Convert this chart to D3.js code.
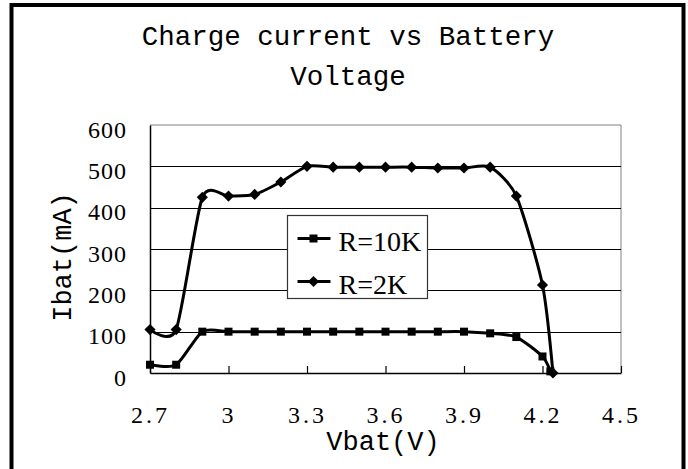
<!DOCTYPE html>
<html>
<head>
<meta charset="utf-8">
<script src="https://cdn.jsdelivr.net/npm/d3@7"></script>
<style>
  body { margin: 0; background: #fff; }
  text { fill: #000; }
</style>
</head>
<body>
<svg id="chart"></svg>
<script>
const W = 688, H = 469;
const plot = { left: 150, right: 621, top: 125, bottom: 373 };

// data
const voltage10k = [2.7, 2.8, 2.9, 3.0, 3.1, 3.2, 3.3, 3.4, 3.5, 3.6, 3.7, 3.8, 3.9, 4.0, 4.1, 4.2, 4.23];
const current10k = [20, 20, 100, 100, 100, 100, 100, 100, 100, 100, 100, 100, 100, 96, 87, 40, 4];
const voltage2k = [2.7, 2.8, 2.9, 3.0, 3.1, 3.2, 3.3, 3.4, 3.5, 3.6, 3.7, 3.8, 3.9, 4.0, 4.1, 4.2, 4.24];
const current2k = [105, 105, 425, 428, 432, 462, 500, 498, 498, 498, 498, 496, 496, 498, 428, 213, 0];
const seriesNames = ["R=10K", "R=2K"];
const xTicks = [2.7, 3.0, 3.3, 3.6, 3.9, 4.2, 4.5];
const yTicks = [0, 100, 200, 300, 400, 500, 600];

const svg = d3.select("#chart")
  .attr("width", W)
  .attr("height", H);

svg.append("rect")
  .attr("width", W)
  .attr("height", H)
  .attr("fill", "#fff");

// thick outer frame
svg.append("rect")
  .attr("x", 11.5)
  .attr("y", 5)
  .attr("width", 672)
  .attr("height", 480)
  .attr("fill", "none")
  .attr("stroke", "#000")
  .attr("stroke-width", 4);

const x = d3.scaleLinear().domain([2.7, 4.5]).range([plot.left, plot.right]);
const y = d3.scaleLinear().domain([0, 600]).range([plot.bottom, plot.top]);

// plot frame (top and right in grey)
svg.append("path")
  .attr("d", `M${plot.left},${plot.top}H${plot.right}V${plot.bottom}`)
  .attr("fill", "none")
  .attr("stroke", "#808080")
  .attr("stroke-width", 1);

// gridlines
svg.append("g")
  .selectAll("line")
  .data(yTicks.filter(d => d > 0 && d < 600))
  .enter()
  .append("line")
  .attr("x1", plot.left)
  .attr("x2", plot.right)
  .attr("y1", d => Math.round(y(d)) + 0.5)
  .attr("y2", d => Math.round(y(d)) + 0.5)
  .attr("stroke", "#000")
  .attr("stroke-width", 1);

// axes
const xAxis = svg.append("g")
  .attr("transform", `translate(0,${plot.bottom})`)
  .call(d3.axisBottom(x).tickValues(xTicks).tickSizeInner(-7).tickSizeOuter(0)
    .tickFormat(d => d === 3 ? "3" : d3.format(".1f")(d)));
xAxis.select(".domain").attr("stroke", "#000").attr("stroke-width", 1.5);
xAxis.selectAll(".tick line").attr("stroke", "#000").attr("stroke-width", 1.2);
xAxis.selectAll("text")
  .attr("y", 50)
  .attr("dy", null)
  .style("font-family", "'Liberation Serif', serif")
  .style("font-size", "24px")
  .style("letter-spacing", "3px")
  .attr("fill", "#000");

const yAxis = svg.append("g")
  .attr("transform", `translate(${plot.left},0)`)
  .call(d3.axisLeft(y).tickValues(yTicks).tickSize(0).tickPadding(23));
yAxis.select(".domain").attr("stroke", "#000").attr("stroke-width", 1.5);
yAxis.selectAll("text")
  .attr("dy", null)
  .attr("y", 12)
  .style("font-family", "'Liberation Serif', serif")
  .style("font-size", "24px")
  .style("letter-spacing", "1px")
  .attr("fill", "#000");

// series
const series = [
  { name: seriesNames[0], values: voltage10k.map((v, i) => ({ v, c: current10k[i] })), shape: "square" },
  { name: seriesNames[1], values: voltage2k.map((v, i) => ({ v, c: current2k[i] })), shape: "diamond" }
];

const line = d3.line()
  .x(d => x(d.v))
  .y(d => y(d.c))
  .curve(d3.curveCardinal.tension(0.3));

const squareSym = d3.symbol(d3.symbolSquare, 64);
const diamondSym = d3.symbol(d3.symbolSquare, 62);

function marker(sel, shape) {
  sel.append("path")
    .attr("d", shape === "square" ? squareSym() : diamondSym())
    .attr("transform", shape === "square" ? null : "rotate(45)")
    .attr("fill", "#000");
}

series.forEach(s => {
  svg.append("path")
    .datum(s.values)
    .attr("d", line)
    .attr("fill", "none")
    .attr("stroke", "#000")
    .attr("stroke-width", 3);

  svg.append("g")
    .selectAll("g")
    .data(s.values)
    .enter()
    .append("g")
    .attr("transform", d => `translate(${x(d.v)},${y(d.c)})`)
    .each(function() { marker(d3.select(this), s.shape); });
});

// legend
const legend = svg.append("g").attr("transform", "translate(287.5,215.5)");
legend.append("rect")
  .attr("width", 140)
  .attr("height", 83)
  .attr("fill", "#fff")
  .attr("stroke", "#333")
  .attr("stroke-width", 1.2);

const entry = legend.selectAll(".entry")
  .data(series)
  .enter()
  .append("g")
  .attr("class", "entry")
  .attr("transform", (d, i) => `translate(0,${23 + i * 43})`);

entry.append("line")
  .attr("x1", 10)
  .attr("x2", 43)
  .attr("stroke", "#000")
  .attr("stroke-width", 3);

entry.append("g")
  .attr("transform", "translate(26,0)")
  .each(function(d) { marker(d3.select(this), d.shape); });

entry.append("text")
  .attr("x", 51)
  .attr("y", 12)
  .style("font-family", "'Liberation Serif', serif")
  .style("font-size", "28px")
  .text(d => d.name);

// title
const title = svg.append("text")
  .attr("text-anchor", "middle")
  .style("font-family", "'Liberation Mono', monospace")
  .style("font-size", "27.5px");
title.append("tspan").attr("x", 348).attr("y", 45).text("Charge current vs Battery");
title.append("tspan").attr("x", 348).attr("y", 85).text("Voltage");

// axis titles
svg.append("text")
  .attr("x", 383)
  .attr("y", 450)
  .attr("text-anchor", "middle")
  .style("font-family", "'Liberation Mono', monospace")
  .style("font-size", "27px")
  .text("Vbat(V)");

svg.append("text")
  .attr("transform", "translate(71,257) rotate(-90)")
  .attr("text-anchor", "middle")
  .style("font-family", "'Liberation Mono', monospace")
  .style("font-size", "27px")
  .text("Ibat(mA)");
</script>
</body>
</html>
